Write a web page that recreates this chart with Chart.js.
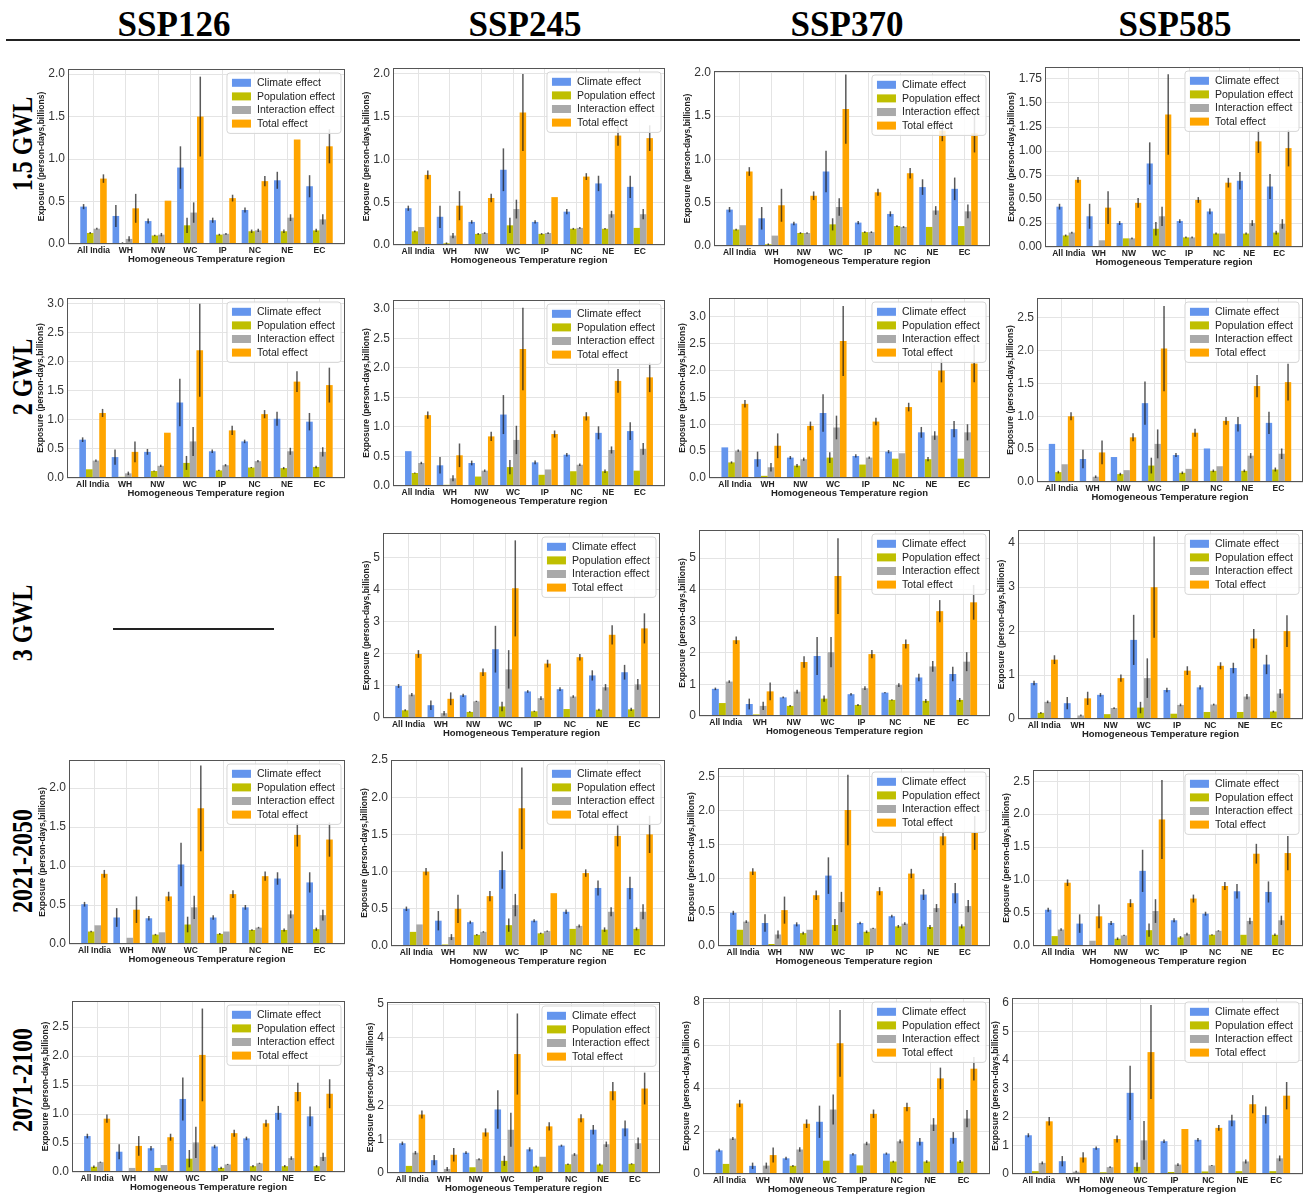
<!DOCTYPE html>
<html lang="en">
<head>
<meta charset="UTF-8">
<title>Exposure decomposition by homogeneous temperature region</title>
<script src="https://cdn.jsdelivr.net/npm/chart.js"></script>
<style>
    body {
        margin: 0;
        width: 1306px;
        height: 1194px;
        overflow: hidden;
        background: #fff;
        position: relative;
        font-family: 'Liberation Sans', Arial, sans-serif;
    }
    .head {
        position: absolute;
        top: 7px;
        width: 200px;
        text-align: center;
        font: bold 35px/36px 'Liberation Serif', 'Times New Roman', serif;
        color: #000;
    }
    .rowlab {
        position: absolute;
        left: 23px;
        transform: translate(-50%, -50%) rotate(-90deg) scale(1, 1.2);
        white-space: nowrap;
        font: bold 24px 'Liberation Serif', 'Times New Roman', serif;
        color: #000;
    }
    .rule { position: absolute; background: #222; }
    canvas { position: absolute; }
</style>
</head>
<body>

<div class="head" style="left:74px">SSP126</div>
<div class="head" style="left:425px">SSP245</div>
<div class="head" style="left:747px">SSP370</div>
<div class="head" style="left:1075px">SSP585</div>
<div class="rule" style="left:6px; top:39px; width:1294px; height:2px"></div>

<div class="rowlab" style="top:144px">1.5 GWL</div>
<div class="rowlab" style="top:377px">2 GWL</div>
<div class="rowlab" style="top:623px">3 GWL</div>
<div class="rowlab" style="top:861px">2021-2050</div>
<div class="rowlab" style="top:1080px">2071-2100</div>

<!-- SSP126 has no 3 GWL panel -->
<div class="rule" style="left:113px; top:628px; width:161px; height:1.5px"></div>

<script>
const regions = ['All India', 'WH', 'NW', 'WC', 'IP', 'NC', 'NE', 'EC'];
const seriesNames = ['Climate effect', 'Population effect', 'Interaction effect', 'Total effect'];
const seriesColors = ['#6495ED', '#BFBF00', '#A9A9A9', '#FFA500'];

// SSP126, 1.5 GWL
const s126_15_clim = [0.44, 0.33, 0.27, 0.90, 0.28, 0.40, 0.75, 0.68];
const s126_15_clim_e = [0.03, 0.13, 0.03, 0.25, 0.03, 0.03, 0.10, 0.13];
const s126_15_pop = [0.13, 0.01, 0.10, 0.22, 0.11, 0.15, 0.15, 0.16];
const s126_15_pop_e = [0.01, 0.01, 0.01, 0.09, 0.01, 0.02, 0.02, 0.02];
const s126_15_int = [0.18, 0.06, 0.11, 0.37, 0.12, 0.16, 0.31, 0.29];
const s126_15_int_e = [0.01, 0.03, 0.02, 0.12, 0.01, 0.02, 0.04, 0.06];
const s126_15_tot = [0.77, 0.42, 0.51, 1.50, 0.54, 0.74, 1.23, 1.15];
const s126_15_tot_e = [0.05, 0.17, 0.00, 0.47, 0.04, 0.06, 0.00, 0.20];

// SSP245, 1.5 GWL
const s245_15_clim = [0.43, 0.33, 0.27, 0.88, 0.27, 0.39, 0.72, 0.68];
const s245_15_clim_e = [0.03, 0.13, 0.02, 0.25, 0.02, 0.03, 0.09, 0.13];
const s245_15_pop = [0.16, 0.02, 0.13, 0.23, 0.13, 0.19, 0.19, 0.20];
const s245_15_pop_e = [0.01, 0.01, 0.01, 0.09, 0.01, 0.01, 0.01, 0.00];
const s245_15_int = [0.21, 0.11, 0.14, 0.42, 0.14, 0.20, 0.36, 0.36];
const s245_15_int_e = [0.00, 0.03, 0.01, 0.11, 0.01, 0.01, 0.04, 0.06];
const s245_15_tot = [0.82, 0.46, 0.55, 1.55, 0.56, 0.80, 1.28, 1.25];
const s245_15_tot_e = [0.05, 0.17, 0.05, 0.45, 0.00, 0.04, 0.12, 0.15];

// SSP370, 1.5 GWL
const s370_15_clim = [0.42, 0.32, 0.26, 0.86, 0.27, 0.37, 0.68, 0.66];
const s370_15_clim_e = [0.03, 0.13, 0.02, 0.24, 0.02, 0.03, 0.09, 0.13];
const s370_15_pop = [0.19, 0.02, 0.15, 0.25, 0.16, 0.23, 0.22, 0.23];
const s370_15_pop_e = [0.01, 0.01, 0.01, 0.07, 0.01, 0.01, 0.00, 0.00];
const s370_15_int = [0.24, 0.12, 0.15, 0.45, 0.16, 0.22, 0.41, 0.40];
const s370_15_int_e = [0.00, 0.00, 0.01, 0.10, 0.01, 0.01, 0.05, 0.08];
const s370_15_tot = [0.86, 0.47, 0.58, 1.58, 0.62, 0.84, 1.33, 1.30];
const s370_15_tot_e = [0.05, 0.19, 0.05, 0.40, 0.04, 0.06, 0.12, 0.22];

// SSP585, 1.5 GWL
const s585_15_clim = [0.42, 0.32, 0.25, 0.87, 0.27, 0.37, 0.69, 0.63];
const s585_15_clim_e = [0.03, 0.13, 0.02, 0.22, 0.02, 0.03, 0.09, 0.13];
const s585_15_pop = [0.12, 0.01, 0.09, 0.19, 0.10, 0.14, 0.14, 0.15];
const s585_15_pop_e = [0.01, 0.00, 0.00, 0.07, 0.01, 0.01, 0.01, 0.02];
const s585_15_int = [0.15, 0.07, 0.09, 0.32, 0.10, 0.14, 0.25, 0.24];
const s585_15_int_e = [0.01, 0.00, 0.01, 0.10, 0.01, 0.00, 0.03, 0.05];
const s585_15_tot = [0.70, 0.41, 0.46, 1.38, 0.49, 0.67, 1.10, 1.03];
const s585_15_tot_e = [0.03, 0.17, 0.05, 0.42, 0.03, 0.05, 0.12, 0.19];

// SSP126, 2 GWL
const s126_2_clim = [0.66, 0.36, 0.45, 1.30, 0.46, 0.63, 1.02, 0.97];
const s126_2_clim_e = [0.04, 0.13, 0.05, 0.41, 0.03, 0.03, 0.12, 0.15];
const s126_2_pop = [0.15, 0.02, 0.12, 0.26, 0.13, 0.18, 0.17, 0.19];
const s126_2_pop_e = [0.00, 0.00, 0.01, 0.12, 0.01, 0.01, 0.02, 0.02];
const s126_2_int = [0.30, 0.08, 0.21, 0.63, 0.22, 0.29, 0.46, 0.45];
const s126_2_int_e = [0.02, 0.03, 0.02, 0.25, 0.02, 0.02, 0.06, 0.08];
const s126_2_tot = [1.12, 0.45, 0.78, 2.20, 0.82, 1.10, 1.66, 1.60];
const s126_2_tot_e = [0.07, 0.18, 0.00, 0.80, 0.08, 0.07, 0.18, 0.30];

// SSP245, 2 GWL
const s245_2_clim = [0.59, 0.35, 0.39, 1.21, 0.40, 0.53, 0.90, 0.93];
const s245_2_clim_e = [0.00, 0.14, 0.04, 0.33, 0.03, 0.03, 0.11, 0.15];
const s245_2_pop = [0.22, 0.02, 0.16, 0.32, 0.19, 0.25, 0.25, 0.26];
const s245_2_pop_e = [0.01, 0.00, 0.00, 0.12, 0.00, 0.00, 0.03, 0.00];
const s245_2_int = [0.39, 0.13, 0.26, 0.78, 0.28, 0.36, 0.61, 0.63];
const s245_2_int_e = [0.02, 0.05, 0.02, 0.24, 0.00, 0.02, 0.06, 0.10];
const s245_2_tot = [1.20, 0.52, 0.84, 2.32, 0.88, 1.18, 1.78, 1.84];
const s245_2_tot_e = [0.06, 0.20, 0.08, 0.70, 0.06, 0.07, 0.20, 0.25];

// SSP370, 2 GWL
const s370_2_clim = [0.57, 0.35, 0.38, 1.21, 0.41, 0.49, 0.85, 0.91];
const s370_2_clim_e = [0.00, 0.14, 0.03, 0.35, 0.03, 0.03, 0.10, 0.15];
const s370_2_pop = [0.29, 0.04, 0.23, 0.38, 0.25, 0.36, 0.35, 0.36];
const s370_2_pop_e = [0.02, 0.00, 0.03, 0.10, 0.00, 0.00, 0.04, 0.00];
const s370_2_int = [0.51, 0.20, 0.35, 0.94, 0.38, 0.46, 0.79, 0.85];
const s370_2_int_e = [0.02, 0.08, 0.03, 0.22, 0.02, 0.00, 0.08, 0.15];
const s370_2_tot = [1.38, 0.60, 0.97, 2.55, 1.05, 1.32, 2.00, 2.13];
const s370_2_tot_e = [0.07, 0.23, 0.08, 0.65, 0.07, 0.08, 0.22, 0.35];

// SSP585, 2 GWL
const s585_2_clim = [0.58, 0.35, 0.38, 1.20, 0.41, 0.51, 0.88, 0.90];
const s585_2_clim_e = [0.00, 0.14, 0.00, 0.33, 0.03, 0.00, 0.11, 0.17];
const s585_2_pop = [0.15, 0.01, 0.12, 0.25, 0.14, 0.17, 0.17, 0.19];
const s585_2_pop_e = [0.02, 0.00, 0.02, 0.12, 0.02, 0.02, 0.02, 0.03];
const s585_2_int = [0.27, 0.08, 0.18, 0.58, 0.20, 0.24, 0.40, 0.43];
const s585_2_int_e = [0.00, 0.02, 0.00, 0.22, 0.00, 0.00, 0.04, 0.08];
const s585_2_tot = [1.00, 0.45, 0.68, 2.03, 0.75, 0.93, 1.46, 1.52];
const s585_2_tot_e = [0.06, 0.18, 0.06, 0.65, 0.06, 0.06, 0.17, 0.28];

// SSP245, 3 GWL
const s245_3_clim = [1.00, 0.40, 0.71, 2.15, 0.83, 0.90, 1.33, 1.43];
const s245_3_clim_e = [0.06, 0.15, 0.05, 0.73, 0.04, 0.06, 0.16, 0.23];
const s245_3_pop = [0.24, 0.03, 0.19, 0.36, 0.21, 0.28, 0.26, 0.27];
const s245_3_pop_e = [0.03, 0.00, 0.02, 0.15, 0.02, 0.00, 0.03, 0.05];
const s245_3_int = [0.73, 0.15, 0.52, 1.52, 0.62, 0.67, 0.96, 1.05];
const s245_3_int_e = [0.05, 0.07, 0.02, 0.60, 0.06, 0.04, 0.10, 0.17];
const s245_3_tot = [2.00, 0.60, 1.43, 4.05, 1.70, 1.90, 2.60, 2.80];
const s245_3_tot_e = [0.12, 0.20, 0.12, 1.50, 0.12, 0.10, 0.30, 0.47];

// SSP370, 3 GWL
const s370_3_clim = [0.86, 0.38, 0.59, 1.90, 0.69, 0.74, 1.22, 1.33];
const s370_3_clim_e = [0.04, 0.17, 0.03, 0.60, 0.04, 0.02, 0.12, 0.23];
const s370_3_pop = [0.41, 0.05, 0.32, 0.55, 0.35, 0.51, 0.48, 0.51];
const s370_3_pop_e = [0.00, 0.00, 0.03, 0.10, 0.03, 0.02, 0.06, 0.06];
const s370_3_int = [1.09, 0.32, 0.77, 2.02, 0.88, 0.98, 1.57, 1.72];
const s370_3_int_e = [0.04, 0.13, 0.06, 0.48, 0.06, 0.06, 0.17, 0.30];
const s370_3_tot = [2.40, 0.78, 1.71, 4.43, 1.96, 2.28, 3.32, 3.60];
const s370_3_tot_e = [0.12, 0.28, 0.18, 1.20, 0.13, 0.14, 0.35, 0.55];

// SSP585, 3 GWL
const s585_3_clim = [0.82, 0.36, 0.55, 1.80, 0.66, 0.72, 1.16, 1.24];
const s585_3_clim_e = [0.05, 0.14, 0.04, 0.57, 0.05, 0.05, 0.12, 0.22];
const s585_3_pop = [0.14, 0.01, 0.11, 0.26, 0.12, 0.16, 0.16, 0.17];
const s585_3_pop_e = [0.02, 0.00, 0.00, 0.13, 0.00, 0.00, 0.00, 0.02];
const s585_3_int = [0.39, 0.08, 0.25, 0.93, 0.32, 0.33, 0.51, 0.58];
const s585_3_int_e = [0.03, 0.02, 0.02, 0.45, 0.03, 0.02, 0.06, 0.10];
const s585_3_tot = [1.35, 0.47, 0.93, 3.00, 1.10, 1.21, 1.83, 2.00];
const s585_3_tot_e = [0.10, 0.15, 0.08, 1.15, 0.10, 0.08, 0.22, 0.36];

// SSP126, 2021-2050
const s126_n_clim = [0.51, 0.34, 0.33, 1.02, 0.34, 0.47, 0.84, 0.79];
const s126_n_clim_e = [0.03, 0.12, 0.03, 0.28, 0.03, 0.03, 0.08, 0.13];
const s126_n_pop = [0.16, 0.01, 0.12, 0.25, 0.13, 0.18, 0.18, 0.19];
const s126_n_pop_e = [0.01, 0.00, 0.01, 0.10, 0.01, 0.01, 0.02, 0.02];
const s126_n_int = [0.24, 0.08, 0.15, 0.47, 0.16, 0.21, 0.38, 0.37];
const s126_n_int_e = [0.00, 0.00, 0.00, 0.15, 0.00, 0.01, 0.05, 0.07];
const s126_n_tot = [0.90, 0.44, 0.61, 1.74, 0.64, 0.87, 1.40, 1.34];
const s126_n_tot_e = [0.05, 0.17, 0.06, 0.55, 0.05, 0.06, 0.15, 0.22];

// SSP245, 2021-2050
const s245_n_clim = [0.50, 0.34, 0.32, 1.02, 0.34, 0.46, 0.78, 0.78];
const s245_n_clim_e = [0.03, 0.13, 0.02, 0.25, 0.02, 0.03, 0.10, 0.15];
const s245_n_pop = [0.19, 0.02, 0.15, 0.28, 0.17, 0.23, 0.22, 0.23];
const s245_n_pop_e = [0.00, 0.00, 0.01, 0.09, 0.01, 0.00, 0.03, 0.02];
const s245_n_int = [0.29, 0.12, 0.19, 0.55, 0.20, 0.27, 0.46, 0.46];
const s245_n_int_e = [0.00, 0.04, 0.01, 0.15, 0.01, 0.02, 0.06, 0.10];
const s245_n_tot = [1.00, 0.50, 0.67, 1.85, 0.71, 0.98, 1.48, 1.50];
const s245_n_tot_e = [0.05, 0.19, 0.07, 0.55, 0.00, 0.05, 0.14, 0.25];

// SSP370, 2021-2050
const s370_n_clim = [0.49, 0.34, 0.32, 1.04, 0.34, 0.44, 0.76, 0.78];
const s370_n_clim_e = [0.03, 0.13, 0.03, 0.27, 0.02, 0.02, 0.08, 0.15];
const s370_n_pop = [0.24, 0.03, 0.19, 0.31, 0.21, 0.29, 0.28, 0.29];
const s370_n_pop_e = [0.00, 0.00, 0.02, 0.09, 0.02, 0.02, 0.03, 0.03];
const s370_n_int = [0.36, 0.17, 0.24, 0.65, 0.26, 0.33, 0.56, 0.59];
const s370_n_int_e = [0.02, 0.06, 0.00, 0.15, 0.01, 0.02, 0.06, 0.09];
const s370_n_tot = [1.10, 0.53, 0.75, 2.01, 0.81, 1.07, 1.62, 1.67];
const s370_n_tot_e = [0.05, 0.20, 0.07, 0.52, 0.06, 0.07, 0.13, 0.25];

// SSP585, 2021-2050
const s585_n_clim = [0.55, 0.34, 0.35, 1.14, 0.39, 0.49, 0.83, 0.82];
const s585_n_clim_e = [0.03, 0.14, 0.03, 0.32, 0.03, 0.03, 0.11, 0.16];
const s585_n_pop = [0.15, 0.01, 0.11, 0.24, 0.13, 0.17, 0.17, 0.17];
const s585_n_pop_e = [0.00, 0.00, 0.02, 0.10, 0.02, 0.01, 0.00, 0.02];
const s585_n_int = [0.25, 0.08, 0.16, 0.53, 0.18, 0.23, 0.38, 0.39];
const s585_n_int_e = [0.02, 0.00, 0.01, 0.18, 0.02, 0.01, 0.05, 0.07];
const s585_n_tot = [0.96, 0.45, 0.65, 1.92, 0.72, 0.91, 1.40, 1.41];
const s585_n_tot_e = [0.05, 0.18, 0.06, 0.60, 0.06, 0.06, 0.15, 0.26];

// SSP126, 2071-2100
const s126_f_clim = [0.62, 0.35, 0.41, 1.26, 0.44, 0.58, 1.02, 0.96];
const s126_f_clim_e = [0.04, 0.13, 0.04, 0.37, 0.03, 0.03, 0.12, 0.17];
const s126_f_pop = [0.09, 0.01, 0.07, 0.23, 0.07, 0.10, 0.10, 0.10];
const s126_f_pop_e = [0.02, 0.00, 0.00, 0.15, 0.02, 0.02, 0.02, 0.02];
const s126_f_int = [0.17, 0.07, 0.12, 0.51, 0.13, 0.15, 0.24, 0.26];
const s126_f_int_e = [0.01, 0.00, 0.00, 0.27, 0.01, 0.01, 0.03, 0.07];
const s126_f_tot = [0.92, 0.45, 0.60, 2.02, 0.67, 0.84, 1.38, 1.35];
const s126_f_tot_e = [0.07, 0.17, 0.06, 0.80, 0.06, 0.06, 0.16, 0.25];

// SSP245, 2071-2100
const s245_f_clim = [0.88, 0.38, 0.60, 1.88, 0.70, 0.81, 1.28, 1.32];
const s245_f_clim_e = [0.05, 0.15, 0.04, 0.57, 0.06, 0.03, 0.14, 0.23];
const s245_f_pop = [0.21, 0.02, 0.17, 0.36, 0.19, 0.26, 0.25, 0.27];
const s245_f_pop_e = [0.00, 0.00, 0.00, 0.15, 0.03, 0.02, 0.03, 0.02];
const s245_f_int = [0.60, 0.12, 0.41, 1.28, 0.48, 0.55, 0.85, 0.88];
const s245_f_int_e = [0.05, 0.06, 0.03, 0.50, 0.00, 0.04, 0.08, 0.17];
const s245_f_tot = [1.73, 0.54, 1.20, 3.52, 1.38, 1.62, 2.42, 2.50];
const s245_f_tot_e = [0.12, 0.20, 0.12, 1.20, 0.12, 0.12, 0.27, 0.47];

// SSP370, 2071-2100
const s370_f_clim = [1.10, 0.38, 0.73, 2.43, 0.92, 0.95, 1.50, 1.68];
const s370_f_clim_e = [0.07, 0.15, 0.07, 0.75, 0.06, 0.05, 0.17, 0.27];
const s370_f_pop = [0.47, 0.04, 0.38, 0.62, 0.40, 0.58, 0.58, 0.58];
const s370_f_pop_e = [0.00, 0.00, 0.04, 0.00, 0.00, 0.04, 0.06, 0.07];
const s370_f_int = [1.65, 0.39, 1.14, 3.00, 1.42, 1.52, 2.30, 2.58];
const s370_f_int_e = [0.07, 0.14, 0.10, 0.70, 0.08, 0.09, 0.30, 0.40];
const s370_f_tot = [3.28, 0.88, 2.34, 6.08, 2.80, 3.12, 4.45, 4.90];
const s370_f_tot_e = [0.17, 0.35, 0.20, 1.55, 0.20, 0.20, 0.50, 0.55];

// SSP585, 2071-2100
const s585_f_clim = [1.36, 0.45, 0.91, 2.85, 1.15, 1.20, 1.88, 2.07];
const s585_f_clim_e = [0.07, 0.18, 0.06, 0.95, 0.06, 0.06, 0.20, 0.30];
const s585_f_pop = [0.10, 0.01, 0.06, 0.25, 0.07, 0.09, 0.10, 0.10];
const s585_f_pop_e = [0.00, 0.00, 0.00, 0.15, 0.00, 0.00, 0.00, 0.00];
const s585_f_int = [0.39, 0.08, 0.24, 1.18, 0.33, 0.30, 0.44, 0.55];
const s585_f_int_e = [0.05, 0.03, 0.03, 0.68, 0.05, 0.02, 0.07, 0.10];
const s585_f_tot = [1.85, 0.58, 1.23, 4.28, 1.58, 1.62, 2.45, 2.75];
const s585_f_tot_e = [0.15, 0.18, 0.12, 1.65, 0.00, 0.10, 0.32, 0.48];

// panel: values, errors, y max, y tick step
const panels = [
    ['p11', [s126_15_clim, s126_15_pop, s126_15_int, s126_15_tot], [s126_15_clim_e, s126_15_pop_e, s126_15_int_e, s126_15_tot_e], 2.06, 0.5],
    ['p12', [s245_15_clim, s245_15_pop, s245_15_int, s245_15_tot], [s245_15_clim_e, s245_15_pop_e, s245_15_int_e, s245_15_tot_e], 2.07, 0.5],
    ['p13', [s370_15_clim, s370_15_pop, s370_15_int, s370_15_tot], [s370_15_clim_e, s370_15_pop_e, s370_15_int_e, s370_15_tot_e], 2.02, 0.5],
    ['p14', [s585_15_clim, s585_15_pop, s585_15_int, s585_15_tot], [s585_15_clim_e, s585_15_pop_e, s585_15_int_e, s585_15_tot_e], 1.875, 0.25],
    ['p21', [s126_2_clim, s126_2_pop, s126_2_int, s126_2_tot], [s126_2_clim_e, s126_2_pop_e, s126_2_int_e, s126_2_tot_e], 3.10, 0.5],
    ['p22', [s245_2_clim, s245_2_pop, s245_2_int, s245_2_tot], [s245_2_clim_e, s245_2_pop_e, s245_2_int_e, s245_2_tot_e], 3.15, 0.5],
    ['p23', [s370_2_clim, s370_2_pop, s370_2_int, s370_2_tot], [s370_2_clim_e, s370_2_pop_e, s370_2_int_e, s370_2_tot_e], 3.35, 0.5],
    ['p24', [s585_2_clim, s585_2_pop, s585_2_int, s585_2_tot], [s585_2_clim_e, s585_2_pop_e, s585_2_int_e, s585_2_tot_e], 2.80, 0.5],
    ['p32', [s245_3_clim, s245_3_pop, s245_3_int, s245_3_tot], [s245_3_clim_e, s245_3_pop_e, s245_3_int_e, s245_3_tot_e], 5.78, 1],
    ['p33', [s370_3_clim, s370_3_pop, s370_3_int, s370_3_tot], [s370_3_clim_e, s370_3_pop_e, s370_3_int_e, s370_3_tot_e], 5.89, 1],
    ['p34', [s585_3_clim, s585_3_pop, s585_3_int, s585_3_tot], [s585_3_clim_e, s585_3_pop_e, s585_3_int_e, s585_3_tot_e], 4.30, 1],
    ['p41', [s126_n_clim, s126_n_pop, s126_n_int, s126_n_tot], [s126_n_clim_e, s126_n_pop_e, s126_n_int_e, s126_n_tot_e], 2.36, 0.5],
    ['p42', [s245_n_clim, s245_n_pop, s245_n_int, s245_n_tot], [s245_n_clim_e, s245_n_pop_e, s245_n_int_e, s245_n_tot_e], 2.50, 0.5],
    ['p43', [s370_n_clim, s370_n_pop, s370_n_int, s370_n_tot], [s370_n_clim_e, s370_n_pop_e, s370_n_int_e, s370_n_tot_e], 2.63, 0.5],
    ['p44', [s585_n_clim, s585_n_pop, s585_n_int, s585_n_tot], [s585_n_clim_e, s585_n_pop_e, s585_n_int_e, s585_n_tot_e], 2.67, 0.5],
    ['p51', [s126_f_clim, s126_f_pop, s126_f_int, s126_f_tot], [s126_f_clim_e, s126_f_pop_e, s126_f_int_e, s126_f_tot_e], 2.95, 0.5],
    ['p52', [s245_f_clim, s245_f_pop, s245_f_int, s245_f_tot], [s245_f_clim_e, s245_f_pop_e, s245_f_int_e, s245_f_tot_e], 5.06, 1],
    ['p53', [s370_f_clim, s370_f_pop, s370_f_int, s370_f_tot], [s370_f_clim_e, s370_f_pop_e, s370_f_int_e, s370_f_tot_e], 8.19, 2],
    ['p54', [s585_f_clim, s585_f_pop, s585_f_int, s585_f_tot], [s585_f_clim_e, s585_f_pop_e, s585_f_int_e, s585_f_tot_e], 6.18, 1]
];

// plot area of each panel on the page: left, top, right, zero line
const plotBoxes = {
    p11: [68, 69, 345, 244], p12: [393, 68, 665, 245], p13: [714, 71, 990, 246], p14: [1045, 67, 1303, 247],
    p21: [67, 298, 345, 478], p22: [393, 300, 665, 486], p23: [709, 298, 990, 478], p24: [1037, 298, 1303, 482],
    p32: [383, 533, 660, 718], p33: [699, 530, 990, 716], p34: [1018, 530, 1303, 719],
    p41: [69, 760, 345, 944], p42: [391, 760, 665, 946], p43: [718, 768, 990, 946], p44: [1033, 770, 1303, 946],
    p51: [72, 1001, 345, 1172], p52: [387, 1002, 660, 1173], p53: [703, 998, 990, 1174], p54: [1012, 998, 1303, 1174]
};

const Y_AXIS_W = 44, X_AXIS_H = 22, PAD_TOP = 8, PAD_RIGHT = 3, PAD_BOTTOM = 2;
const TICK_FONT = "12px 'Liberation Sans', Arial, sans-serif";

Chart.defaults.font.family = "'Liberation Sans', Arial, sans-serif";
Chart.defaults.color = '#333';
Chart.defaults.animation = false;

// error bars, frame, y title and legend inside the plot
const decor = {
    id: 'decor',
    afterDatasetsDraw(chart) {
        const ctx = chart.ctx;
        const a = chart.chartArea;
        const ys = chart.scales.y;
        ctx.save();

        ctx.save();
        ctx.beginPath();
        ctx.rect(a.left, a.top, a.width, a.height);
        ctx.clip();
        ctx.strokeStyle = 'rgba(25,25,25,0.72)';
        ctx.lineWidth = 1.5;
        chart.data.datasets.forEach((ds, i) => {
            chart.getDatasetMeta(i).data.forEach((bar, k) => {
                const e = ds.err[k];
                if (!e) return;
                const v = ds.data[k].y;
                ctx.beginPath();
                ctx.moveTo(bar.x, ys.getPixelForValue(v - e));
                ctx.lineTo(bar.x, ys.getPixelForValue(v + e));
                ctx.stroke();
            });
        });
        ctx.restore();

        ctx.strokeStyle = '#555';
        ctx.lineWidth = 1;
        ctx.strokeRect(a.left + 0.5, a.top + 0.5, a.width - 1, a.height - 1);

        // y title next to the tick labels
        ctx.font = TICK_FONT;
        const labW = Math.max(...ys.ticks.map(t => ctx.measureText(t.label).width));
        ctx.font = "bold 8.5px 'Liberation Sans', Arial, sans-serif";
        ctx.fillStyle = '#222';
        ctx.translate(a.left - 3 - labW - 7, (a.top + a.bottom) / 2);
        ctx.rotate(-Math.PI / 2);
        ctx.textAlign = 'center';
        ctx.textBaseline = 'middle';
        ctx.fillText('Exposure (person-days,billions)', 0, 0);
        ctx.setTransform(1, 0, 0, 1, 0, 0);

        // legend, upper right
        ctx.font = "10.5px 'Liberation Sans', Arial, sans-serif";
        const names = chart.data.datasets.map(d => d.label);
        const tw = Math.max(...names.map(n => ctx.measureText(n).width));
        const w = tw + 36, rowH = 13.6, h = rowH * names.length + 6;
        const x0 = a.right - 4 - w, y0 = a.top + 4;
        ctx.fillStyle = 'rgba(255,255,255,0.85)';
        ctx.strokeStyle = '#d6d6d6';
        ctx.beginPath();
        ctx.roundRect(x0, y0, w, h, 3);
        ctx.fill();
        ctx.stroke();
        ctx.textAlign = 'left';
        ctx.textBaseline = 'middle';
        chart.data.datasets.forEach((ds, i) => {
            const cy = y0 + 3 + rowH * i + rowH / 2;
            ctx.fillStyle = ds.backgroundColor;
            ctx.fillRect(x0 + 5, cy - 4, 19, 8);
            ctx.fillStyle = '#222';
            ctx.fillText(ds.label, x0 + 30, cy + 0.5);
        });
        ctx.restore();
    }
};

panels.forEach(([id, values, errs, yMax, yStep]) => {
    const [l, t, r, b] = plotBoxes[id];
    const cv = document.createElement('canvas');
    const left = l - Y_AXIS_W, top = t - PAD_TOP;
    cv.width = r + PAD_RIGHT - left;
    cv.height = b + X_AXIS_H + PAD_BOTTOM - top;
    cv.style.left = left + 'px';
    cv.style.top = top + 'px';
    document.body.appendChild(cv);
    const dec = yStep < 0.5 ? 2 : (yStep < 1 ? 1 : 0);

    new Chart(cv, {
        type: 'bar',
        data: {
            datasets: values.map((vals, i) => ({
                label: seriesNames[i],
                data: vals.map((v, k) => ({ x: k, y: v })),
                err: errs[i],
                backgroundColor: seriesColors[i],
                categoryPercentage: 0.82,
                barPercentage: 1.0
            }))
        },
        options: {
            responsive: false,
            layout: { padding: { top: PAD_TOP, right: PAD_RIGHT, bottom: PAD_BOTTOM, left: 0 } },
            plugins: { legend: { display: false }, tooltip: { enabled: false } },
            scales: {
                x: {
                    type: 'linear',
                    offset: false,
                    min: -0.79,
                    max: 7.79,
                    grid: { color: '#e4e4e4', drawTicks: false, offset: false },
                    border: { display: false },
                    ticks: {
                        stepSize: 1,
                        includeBounds: false,
                        autoSkip: false,
                        maxRotation: 0,
                        padding: 2,
                        color: '#222',
                        font: { size: 8.5, weight: 'bold' },
                        callback: v => regions[v]
                    },
                    title: {
                        display: true,
                        text: 'Homogeneous Temperature region',
                        color: '#222',
                        font: { size: 9.5, weight: 'bold' },
                        padding: { top: 0, bottom: 1 }
                    },
                    afterFit(s) { s.height = X_AXIS_H; s.paddingLeft = 0; s.paddingRight = 0; }
                },
                y: {
                    min: 0,
                    max: yMax,
                    grid: { color: '#e4e4e4', drawTicks: false },
                    border: { display: false },
                    ticks: {
                        stepSize: yStep,
                        includeBounds: false,
                        padding: 3,
                        color: '#333',
                        font: { size: 12 },
                        callback: v => v.toFixed(dec)
                    },
                    afterFit(s) { s.width = Y_AXIS_W; s.paddingTop = 0; s.paddingBottom = 0; }
                }
            }
        },
        plugins: [decor]
    });
});
</script>

</body>
</html>
